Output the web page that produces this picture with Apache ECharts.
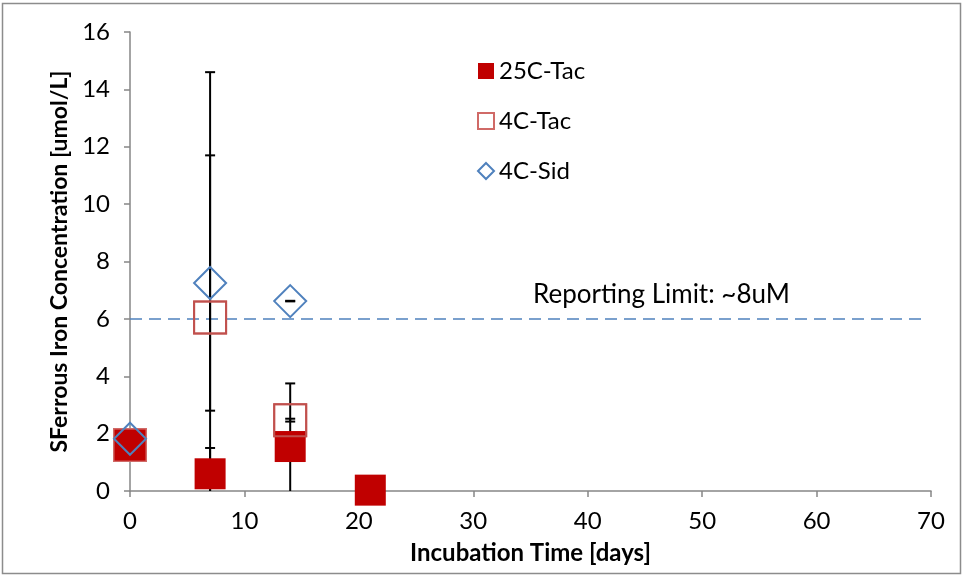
<!DOCTYPE html>
<html><head><meta charset="utf-8">
<script src="https://cdn.jsdelivr.net/npm/echarts@6/dist/echarts.min.js"></script>
<style>html,body{margin:0;padding:0;background:#fff}#c{width:964px;height:577px}</style>
</head><body><div id="c"></div>
<script>
var days = [0, 7, 14, 21];
var tac25 = [1.6, 0.6, 1.55, 0.03];
var tac25Err = [0, 0.9, 2.2, 0];
var tac4 = [1.6, 6.05, 2.47, null];
var tac4Err = [0, 8.55, 0.05, 0];
var sid4 = [1.82, 7.25, 6.62, null];
var sid4Err = [0, 4.45, 0.01, 0];
var limitValue = 6;
var limitRange = [0, 69.5];
var limitText = 'Reporting Limit: ~8uM';

var FONT = 'Lato';
function pts(v){ var o=[]; for(var i=0;i<days.length;i++){ if(v[i]!=null) o.push([days[i], v[i]]); } return o; }
function errs(v,e){ var o=[]; for(var i=0;i<days.length;i++){ if(v[i]!=null && e[i]>0) o.push([days[i], v[i]-e[i], v[i]+e[i]]); } return o; }
var errData = errs(tac25,tac25Err).concat(errs(tac4,tac4Err)).concat(errs(sid4,sid4Err));

var chart = echarts.init(document.getElementById('c'));
chart.setOption({
  animation:false,
  grid:{left:130,right:33,top:32,bottom:86},
  xAxis:{type:'value',min:0,max:70,interval:10,
    name:'Incubation Time [days]',nameLocation:'middle',nameGap:50,
    nameTextStyle:{fontFamily:FONT,fontWeight:'bold',fontSize:24,color:'#000'},
    axisLine:{lineStyle:{color:'#868686',width:1.5}},
    axisTick:{show:true,length:6,lineStyle:{color:'#868686',width:1.5}},
    axisLabel:{fontFamily:FONT,fontSize:24,color:'#000',margin:18},
    splitLine:{show:false}},
  yAxis:{type:'value',min:0,max:16,interval:2,
    name:'SFerrous Iron Concentration [umol/L]',nameLocation:'middle',nameGap:58,
    nameTextStyle:{fontFamily:FONT,fontWeight:'bold',fontSize:23,color:'#000'},
    axisLine:{show:true,lineStyle:{color:'#868686',width:1.5}},
    axisTick:{show:true,length:6,lineStyle:{color:'#868686',width:1.5}},
    axisLabel:{fontFamily:FONT,fontSize:24,color:'#000',margin:20},
    splitLine:{show:false}},
  legend:{orient:'vertical',left:472,top:54,itemGap:26,itemWidth:16,itemHeight:16,
    textStyle:{fontFamily:FONT,fontSize:24,color:'#000'},
    data:['25C-Tac','4C-Tac','4C-Sid']},
  graphic:[
    {type:'rect',shape:{x:2.5,y:3.5,width:958,height:570},style:{fill:'none',stroke:'#8c8c8c',lineWidth:1.5},silent:true},
    {type:'text',left:533,top:282,style:{text:limitText,font:'26px '+FONT,fill:'#000'}}
  ],
  series:[
    {type:'line',name:'limit',data:[[limitRange[0],limitValue],[limitRange[1],limitValue]],symbol:'none',
      lineStyle:{color:'#4F81BD',width:1.5,type:[12,7]},z:1,silent:true},
    {type:'custom',name:'err',data:errData,z:2,clip:false,
      renderItem:function(params,api){
        var x=api.value(0), lo=api.value(1), hi=api.value(2);
        var loC=Math.max(lo,0);
        var pTop=api.coord([x,hi]), pBot=api.coord([x,loC]);
        var ch=[{type:'line',shape:{x1:pTop[0],y1:pTop[1],x2:pBot[0],y2:pBot[1]},style:{stroke:'#000',lineWidth:2}},
                {type:'line',shape:{x1:pTop[0]-5,y1:pTop[1],x2:pTop[0]+5,y2:pTop[1]},style:{stroke:'#000',lineWidth:2}}];
        if(lo>=0) ch.push({type:'line',shape:{x1:pBot[0]-5,y1:pBot[1],x2:pBot[0]+5,y2:pBot[1]},style:{stroke:'#000',lineWidth:2}});
        return {type:'group',children:ch};
      }},
    {type:'scatter',name:'4C-Tac',data:pts(tac4),symbol:'rect',symbolSize:32,z:3,
      itemStyle:{color:'rgba(0,0,0,0)',borderColor:'#D06A67',borderWidth:2,opacity:1}},
    {type:'scatter',name:'25C-Tac',data:pts(tac25),symbol:'rect',symbolSize:31,z:4,
      itemStyle:{color:'#C00000',opacity:1}},
    {type:'scatter',name:'4C-Tac',data:pts(tac4).slice(1),symbol:'rect',symbolSize:32,z:5,legendHoverLink:false,
      itemStyle:{color:'rgba(0,0,0,0)',borderColor:'#C0504D',borderWidth:2,opacity:1}},
    {type:'scatter',name:'4C-Sid',data:pts(sid4),symbol:'diamond',symbolSize:[32,32],z:6,
      itemStyle:{color:'rgba(255,255,255,0)',borderColor:'#4F81BD',borderWidth:2,opacity:1}}
  ]
});
</script></body></html>
